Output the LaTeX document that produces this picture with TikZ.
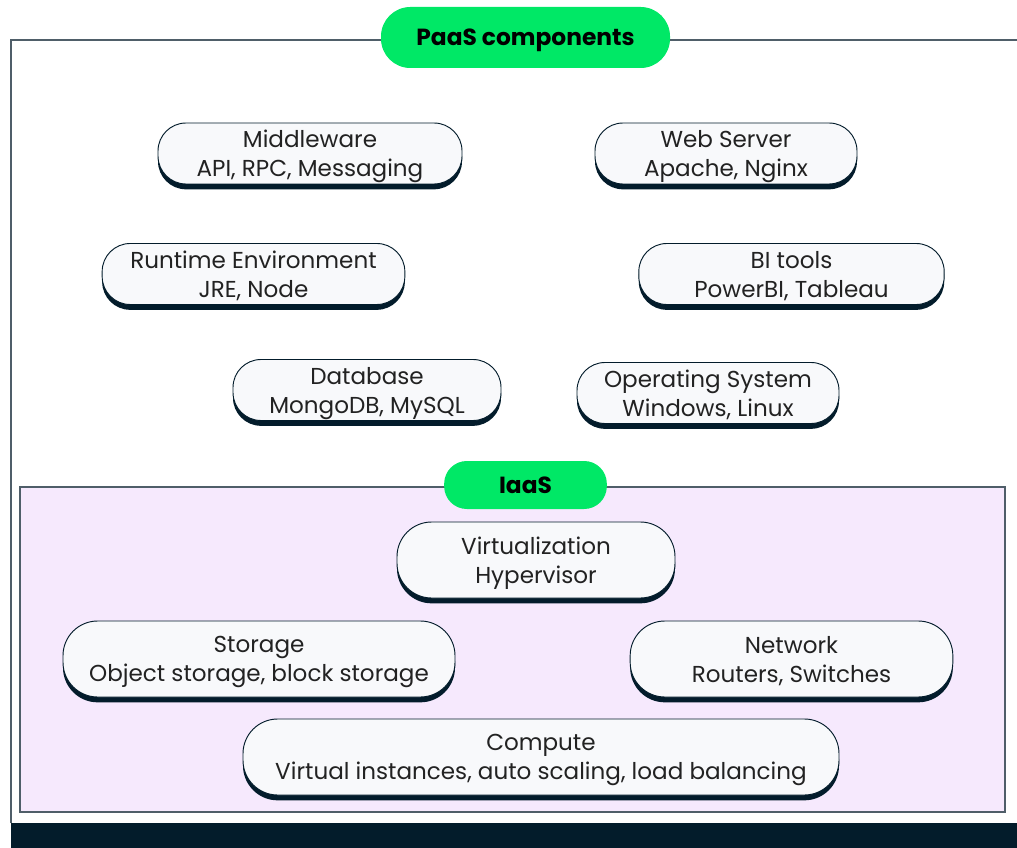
\documentclass[tikz,border=0pt]{standalone}
\usepackage{fontspec}
\setmainfont{Poppins}
\usetikzlibrary{shadows}
\definecolor{pillgreen}{HTML}{00E866}
\definecolor{navy}{HTML}{031C2B}
\definecolor{edgegray}{HTML}{4F5E69}
\definecolor{lavender}{HTML}{F6E9FD}
\definecolor{cardfill}{HTML}{F8F9FB}
\definecolor{inktext}{HTML}{222222}
\begin{document}
\begin{tikzpicture}[x=0.75pt, y=-0.75pt,
  card/.style = {shape=rectangle, rounded corners=21pt,
    draw=navy, line width=0.7pt, fill=cardfill, align=center,
    text=inktext, inner sep=0pt, minimum height=45.75pt,
    text depth=0pt, font=\fontsize{17.3}{21.75}\selectfont,
    drop shadow={shadow xshift=0pt, shadow yshift=-4pt,
      fill=navy, opacity=1}},
  bigcard/.style = {card, rounded corners=26pt, minimum height=57pt},
  badge/.style = {shape=rectangle, fill=pillgreen, text=black,
    text depth=0pt, font=\fontsize{17.5}{20}\selectfont\bfseries}]
  \useasboundingbox (0,0) rectangle (1017,848);
  \draw[edgegray, line width=1.1pt] (11,823) -- (11,40) -- (1030,40);
  \fill[navy] (11,823) rectangle (1017,848);
  \draw[edgegray, line width=1.1pt, fill=lavender] (20,487) rectangle (1005,812);
  \node[badge, rounded corners=22pt, minimum width=216.75pt, minimum height=45.75pt]
    (paas) at (525.5,37.5) {PaaS components};
  \node[badge, rounded corners=17pt, minimum width=122pt, minimum height=36pt]
    (iaas) at (525.5,485) {IaaS};
  \node[card, minimum width=228pt]   (mw)      at (310,153.5) {Middleware\\API, RPC, Messaging};
  \node[card, minimum width=196.5pt] (websrv)  at (726,153.5) {Web Server\\Apache, Nginx};
  \node[card, minimum width=227pt]   (runtime) at (253.5,274) {Runtime Environment\\JRE, Node};
  \node[card, minimum width=229pt]   (bitools) at (791.5,274) {BI tools\\PowerBI, Tableau};
  \node[card, minimum width=201pt]   (db)      at (367,390) {Database\\MongoDB, MySQL};
  \node[card, minimum width=196.5pt] (os)      at (708,393) {Operating System\\Windows, Linux};
  \node[bigcard, minimum width=208.5pt] (virt)    at (536,560) {Virtualization\\Hypervisor};
  \node[bigcard, minimum width=294pt]   (storage) at (259,659) {Storage\\Object storage, block storage};
  \node[bigcard, minimum width=242pt]   (network) at (791.5,659) {Network\\Routers, Switches};
  \node[bigcard, minimum width=447pt]   (compute) at (541,757) {Compute\\Virtual instances, auto scaling, load balancing};
\end{tikzpicture}
\end{document}
